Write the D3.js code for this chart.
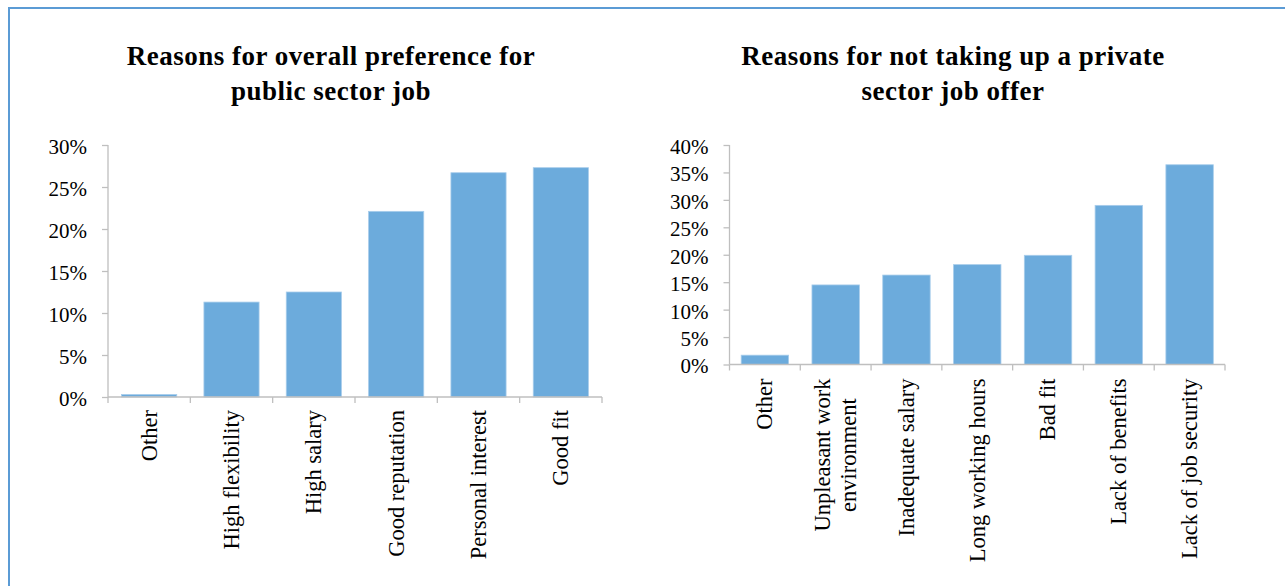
<!DOCTYPE html>
<html>
<head>
<meta charset="utf-8">
<script src="https://cdn.jsdelivr.net/npm/d3@7/dist/d3.min.js"></script>
<style>
  html, body { margin: 0; padding: 0; background: #ffffff; }
  svg { display: block; }
  .title { font-family: "Liberation Serif", "Times New Roman", "DejaVu Serif", serif; font-weight: 700; font-size: 27px; letter-spacing: 0.5px; fill: #000; }
  .tick-label { font-family: "Liberation Serif", "DejaVu Serif", serif; font-size: 21px; fill: #000; }
  .cat-label { font-family: "Liberation Serif", "DejaVu Serif", serif; font-size: 22.5px; fill: #000; }
</style>
</head>
<body>
<svg id="chart" width="1285" height="586"></svg>
<script>
// Reasons for overall preference for a public sector job
const publicCategories = ["Other", "High flexibility", "High salary", "Good reputation", "Personal interest", "Good fit"];
const publicValues = [0.003, 0.113, 0.125, 0.221, 0.267, 0.273];
const publicTicks = [0, 0.05, 0.10, 0.15, 0.20, 0.25, 0.30];
const publicTitle = ["Reasons for overall preference for", "public sector job"];

// Reasons for not taking up a private sector job offer
const privateCategories = ["Other", "Unpleasant work environment", "Inadequate salary", "Long working hours", "Bad fit", "Lack of benefits", "Lack of job security"];
const privateLabelLines = [["Other"], ["Unpleasant work", "environment"], ["Inadequate salary"], ["Long working hours"], ["Bad fit"], ["Lack of benefits"], ["Lack of job security"]];
const privateValues = [0.017, 0.145, 0.163, 0.182, 0.199, 0.290, 0.364];
const privateTicks = [0, 0.05, 0.10, 0.15, 0.20, 0.25, 0.30, 0.35, 0.40];
const privateTitle = ["Reasons for not taking up a private", "sector job offer"];

const BAR_COLOR = "#6cabdc";
const AXIS_COLOR = "#bfbfbf";
const SERIF = '"Liberation Serif", "Times New Roman", "DejaVu Serif", serif';

const svg = d3.select("#chart");

// outer frame (only top and left edges fall inside the view)
svg.append("rect")
  .attr("x", 9).attr("y", 8)
  .attr("width", 1400).attr("height", 700)
  .attr("fill", "none")
  .attr("stroke", "#5b9bd5")
  .attr("stroke-width", 2);

function drawPanel(opts) {
  const g = svg.append("g");

  const x = d3.scaleBand()
    .domain(opts.categories)
    .range([opts.left, opts.right])
    .paddingInner(0.33)
    .paddingOuter(0.165);

  const y = d3.scaleLinear()
    .domain([0, d3.max(opts.ticks)])
    .range([opts.bottom, opts.top]);

  // title
  const title = g.append("text")
    .attr("class", "title")
    .attr("font-family", SERIF)
    .attr("font-weight", "bold")
    .attr("text-anchor", "middle");
  opts.title.forEach((line, i) => {
    title.append("tspan")
      .attr("x", opts.titleX)
      .attr("y", opts.titleY + i * 35)
      .text(line);
  });

  // bars
  g.selectAll("rect.bar")
    .data(opts.values)
    .join("rect")
    .attr("class", "bar")
    .attr("x", (d, i) => x(opts.categories[i]))
    .attr("width", x.bandwidth())
    .attr("y", d => y(d))
    .attr("height", d => y(0) - y(d))
    .attr("fill", BAR_COLOR)
    .attr("stroke", "#a8cdeb")
    .attr("stroke-width", 0.8);

  // y axis
  const yAxis = g.append("g")
    .attr("transform", `translate(${opts.left},0)`)
    .call(d3.axisLeft(y)
      .tickValues(opts.ticks)
      .tickFormat(d3.format(".0%"))
      .tickSize(6)
      .tickPadding(15));
  yAxis.selectAll("path, line").attr("stroke", AXIS_COLOR).attr("stroke-width", 1.3);
  yAxis.select("path.domain").attr("d", `M0,${opts.bottom}V${opts.top}`);
  yAxis.attr("font-family", null).attr("font-size", null);
  yAxis.selectAll("text")
    .attr("class", "tick-label")
    .attr("dy", "0.4em");

  // x axis line with tick marks at category boundaries
  const xAxis = g.append("g");
  xAxis.append("line")
    .attr("x1", opts.left).attr("x2", opts.right)
    .attr("y1", opts.bottom).attr("y2", opts.bottom)
    .attr("stroke", AXIS_COLOR).attr("stroke-width", 1.3);
  const step = x.step();
  const boundaries = d3.range(opts.categories.length + 1).map(i => opts.left + i * step);
  xAxis.selectAll("line.tick")
    .data(boundaries)
    .join("line")
    .attr("class", "tick")
    .attr("x1", d => d).attr("x2", d => d)
    .attr("y1", opts.bottom).attr("y2", opts.bottom + 6)
    .attr("stroke", AXIS_COLOR).attr("stroke-width", 1.3);

  // rotated category labels, read bottom to top, top-aligned under the axis
  opts.categories.forEach((cat, i) => {
    const lines = opts.labelLines ? opts.labelLines[i] : [cat];
    const cx = x(cat) + x.bandwidth() / 2;
    const lineH = 26;
    const label = g.append("text")
      .attr("class", "cat-label")
      .attr("transform", `translate(${cx},${opts.bottom + opts.labelGap}) rotate(-90)`);
    if (lines.length === 1) {
      label.attr("text-anchor", "end")
        .attr("x", 0)
        .attr("y", 0)
        .attr("dy", "0.33em")
        .text(lines[0]);
    } else {
      // multi-line block: lines centred on each other
      const widths = lines.map(l => {
        const t = g.append("text").attr("class", "cat-label").text(l);
        const w = t.node().getComputedTextLength();
        t.remove();
        return w;
      });
      const maxW = d3.max(widths);
      label.attr("text-anchor", "middle");
      lines.forEach((l, k) => {
        label.append("tspan")
          .attr("x", -maxW / 2)
          .attr("y", (k - (lines.length - 1) / 2) * lineH)
          .attr("dy", "0.33em")
          .text(l);
      });
    }
  });
}

drawPanel({
  categories: publicCategories,
  values: publicValues,
  ticks: publicTicks,
  title: publicTitle,
  titleX: 331, titleY: 65,
  left: 108, right: 602, top: 145, bottom: 397,
  labelGap: 13
});

drawPanel({
  categories: privateCategories,
  labelLines: privateLabelLines,
  values: privateValues,
  ticks: privateTicks,
  title: privateTitle,
  titleX: 953, titleY: 65,
  left: 729.5, right: 1225, top: 145, bottom: 364.5,
  labelGap: 14
});
</script>
</body>
</html>
